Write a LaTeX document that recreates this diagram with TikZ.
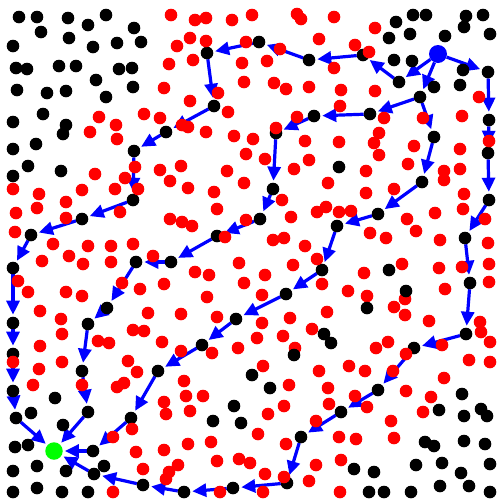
\documentclass[tikz,border=0pt]{standalone}
\usetikzlibrary{arrows.meta}
\pgfdeclarelayer{bg}
\pgfdeclarelayer{paper}
\pgfsetlayers{paper,bg,main}
\tikzset{
  dot/.style={circle, inner sep=0pt, outer sep=0pt, minimum size=12.6pt, draw=none},
  rdot/.style={dot, fill=red},
  bdot/.style={dot, fill=black},
  pnode/.style={dot, fill=black},
  startnode/.style={circle, inner sep=0pt, minimum size=18pt, fill=blue},
  goalnode/.style={circle, inner sep=0pt, minimum size=17.5pt, fill=green},
  edge/.style={draw=blue, line width=3.2pt, -{Triangle[length=14pt,width=13pt]}, shorten >=2pt}
}
\begin{document}
\begin{tikzpicture}[x=1pt,y=-1pt]
\begin{pgfonlayer}{paper}
\fill[white] (0,0) rectangle (497,499);
\end{pgfonlayer}
\useasboundingbox (0,0) rectangle (497,499);
% path nodes
\foreach \n/\x/\y in {a1/399/82,a2/363/55,a3/309/60,a4/259/42,a5/207/53,a6/214/106,a7/166/132,a8/134/151,a9/133/200,a10/82/219,a11/31/235,a12/13/268,a13/13/323,a14/13/354,a15/13/391,a16/16/418,
 b1/420/97,b2/370/114,b3/314/116,b4/276/133,b5/273/189,b6/260/219,b7/217/236,b8/171/262,b9/136/262,b10/107/308,b11/88/324,b12/82/371,b13/88/412,
 c1/434/137,c2/422/182,c3/378/214,c4/337/226,c5/322/270,c6/286/294,c7/236/319,c8/202/345,c9/158/371,c10/131/418,c11/93/451,
 d1/488/72,d2/489/120,d3/488/153,d4/489/200,d5/465/238,d6/470/283,d7/466/334,d8/414/348,d9/378/390,d10/341/412,d11/301/437,d12/287/483,d13/233/488,d14/184/492,d15/143/485,d16/94/474}
  \node[pnode] (\n) at (\x,\y) {};
% red dots
\foreach \x/\y [count=\i] in {171/15,195/20,206/18,232/20,252/15,297/14,301/19,334/17,
190/38,177/46,206/41,246/42,280/49,319/39,
169/64,193/60,242/63,267/61,334/68,
244/82,274/83,286/89,309/87,164/88,
218/93,190/101,228/112,182/125,188/127,206/132,234/136,253/139,297/117,276/128,305/141,246/154,265/159,309/160,294/169,181/166,227/171,339/142,
99/117,116/125,90/132,117/139,144/114,160/118,135/167,160/170,95/174,
375/28,355/45,369/52,341/90,375/91,340/106,479/97,384/118,423/118,462/116,379/133,374/143,414/146,460/149,489/141,379/155,408/164,366/171,444/171,460/169,444/180,
125/178,13/189,39/194,82/190,115/189,138/189,170/181,16/213,37/208,66/202,66/218,120/212,170/219,15/232,53/244,88/246,111/246,133/244,42/261,69/256,83/264,111/262,153/256,18/281,28/292,122/283,140/289,164/284,66/292,82/296,40/311,61/319,148/313,62/334,133/330,144/331,
188/188,244/183,214/192,217/209,182/222,192/226,246/220,225/237,282/200,291/217,273/240,284/238,305/246,328/183,317/212,326/207,317/259,239/263,293/265,195/272,209/275,265/275,244/283,322/284,207/297,262/295,181/314,217/317,290/318,327/312,262/323,312/329,283/336,257/338,
366/193,394/189,464/194,339/212,351/211,435/213,463/209,485/219,407/219,416/231,370/233,386/238,440/240,488/243,402/264,439/268,462/267,489/264,364/273,489/282,348/291,367/296,405/299,445/289,394/307,405/315,429/321,480/322,481/332,
13/362,40/346,39/369,62/362,33/385,82/385,98/341,109/343,162/342,128/361,137/372,117/387,124/383,164/402,166/414,132/429,113/437,136/452,164/450,143/469,169/472,166/479,113/492,
181/351,212/353,238/348,295/348,263/366,319/371,184/381,289/385,328/388,186/396,203/396,284/406,329/404,190/411,268/414,316/421,258/434,188/444,211/442,286/444,217/461,239/459,250/463,178/465,316/465,265/474,284/477,309/481,220/492,263/492,
376/348,388/342,490/342,442/345,406/354,469/360,490/362,349/366,365/371,393/371,444/378,406/391,355/396,431/397,367/407,423/412,391/421,339/437,356/439,394/438,341/460,340/492}
  \node[rdot] (r\i) at (\x,\y) {};
% black dots
\foreach \x/\y [count=\i] in {19/17,37/17,68/18,106/15,88/25,41/32,134/28,69/38,13/46,93/47,117/43,141/42,16/68,27/69,59/66,76/66,119/69,132/68,96/80,17/90,47/93,66/91,106/97,133/87,43/114,13/122,66/125,63/134,13/149,36/144,28/166,61/171,13/176,
339/167,396/22,413/15,426/15,466/16,483/15,464/27,389/38,410/34,445/36,490/34,394/60,412/61,463/70,434/87,460/85,
324/334,331/343,389/270,406/291,367/308,294/355,252/375,270/388,234/406,213/421,241/423,
55/398,31/413,63/425,15/447,28/445,13/471,37/466,66/471,104/466,13/492,37/488,62/492,88/492,
462/394,439/410,481/409,487/416,464/416,425/442,434/446,464/441,485/444,416/465,442/463,354/469,374/472,461/473,490/464,369/492,384/492,411/492,440/486,469/486,490/492}
  \node[bdot] (k\i) at (\x,\y) {};
% start and goal
\node[startnode] (S) at (438,54) {};
\node[goalnode] (G) at (54,451) {};
% edges
\begin{pgfonlayer}{bg}
\foreach \u/\v in {S/a1,a1/a2,a2/a3,a3/a4,a4/a5,a5/a6,a6/a7,a7/a8,a8/a9,a9/a10,a10/a11,a11/a12,a12/a13,a13/a14,a14/a15,a15/a16,a16/G,
 S/b1,b1/b2,b2/b3,b3/b4,b4/b5,b5/b6,b6/b7,b7/b8,b8/b9,b9/b10,b10/b11,b11/b12,b12/b13,b13/G,
 b1/c1,c1/c2,c2/c3,c3/c4,c4/c5,c5/c6,c6/c7,c7/c8,c8/c9,c9/c10,c10/c11,c11/G,
 S/d1,d1/d2,d2/d3,d3/d4,d4/d5,d5/d6,d6/d7,d7/d8,d8/d9,d9/d10,d10/d11,d11/d12,d12/d13,d13/d14,d14/d15,d15/d16,d16/G}
  \draw[edge] (\u) -- (\v);
\end{pgfonlayer}
\end{tikzpicture}
\end{document}
